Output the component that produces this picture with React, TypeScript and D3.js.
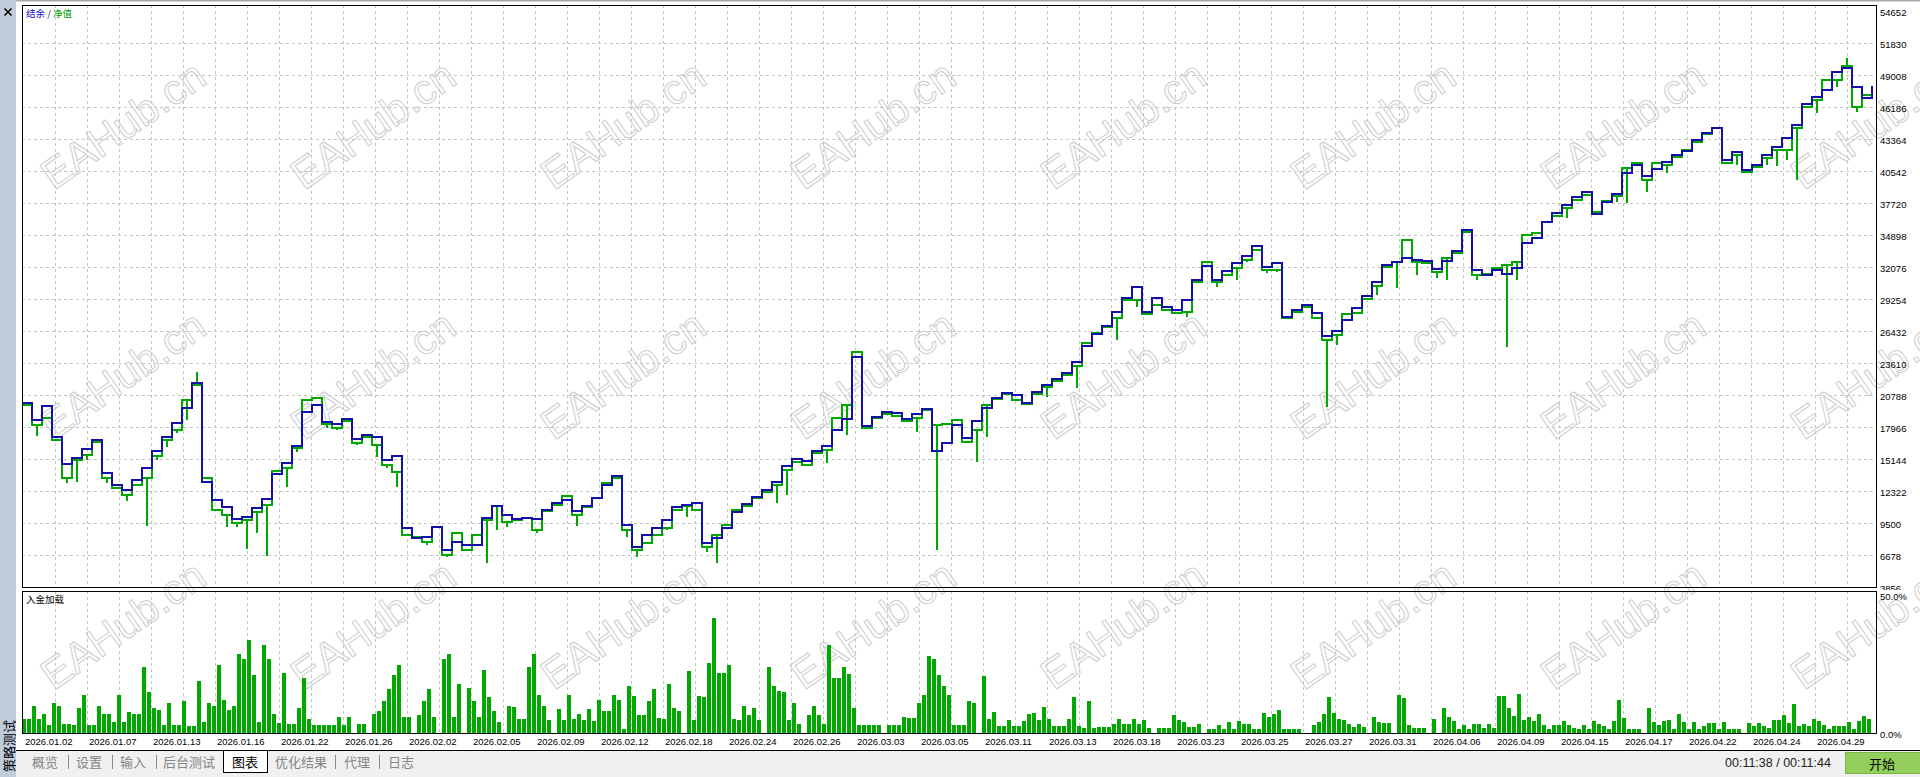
import * as d3 from "d3";
import { useEffect } from "react";

// balance per deal step
const balance = [
  20109, 18610, 19845, 17111, 14729, 15258, 16052, 16846, 13935, 12877,
  12436, 13318, 14376, 15876, 17111, 18345, 19668, 21873, 13142, 11554,
  10937, 9878, 10055, 10848, 11642, 13847, 14817, 16317, 19316, 19933,
  18434, 18257, 18698, 16934, 17287, 17111, 15082, 15435, 9084, 8202,
  8291, 9173, 7144, 7850, 7585, 7585, 9966, 11025, 10231, 9878,
  9966, 9878, 10672, 11289, 11554, 10584, 11025, 11730, 12877, 13671,
  9349, 7409, 8467, 9084, 9790, 10937, 11113, 11289, 7761, 8202,
  9084, 10496, 11201, 11819, 12436, 13142, 14553, 15170, 14994, 15876,
  16317, 17728, 18698, 24167, 18081, 18875, 19316, 19227, 18698, 19139,
  19580, 15876, 16581, 18169, 17022, 18522, 19668, 20550, 20991, 20815,
  20109, 21080, 21697, 22226, 22755, 23726, 25137, 26195, 26901, 28136,
  29370, 30341, 28136, 29370, 28577, 28312, 29194, 30958, 32193, 30958,
  31752, 32457, 33075, 33957, 32105, 32457, 27695, 28312, 28753, 28047,
  26019, 26460, 27430, 28488, 29547, 30782, 32281, 32546, 32898, 32722,
  32634, 31928, 32634, 33516, 35368, 31840, 31399, 31840, 31487, 32016,
  34221, 34662, 36074, 36867, 37573, 38279, 38720, 36779, 37838, 38543,
  40395, 41101, 40131, 40748, 41366, 41983, 42336, 43306, 43923, 44364,
  41542, 42248, 40660, 41101, 41983, 42689, 43482, 44629, 46481, 47099,
  47716, 49304, 49656, 47980, 47010, 48069,
];

// equity level per deal step
const equity = [
  19933, 18169, 18786, 16846, 13494, 15082, 15523, 16670, 13494, 12612,
  11995, 12877, 13494, 15435, 16846, 17728, 20374, 21697, 13494, 10672,
  10231, 9525, 9790, 10496, 11113, 14112, 14376, 16140, 20374, 20550,
  18257, 17904, 18522, 16581, 17111, 16405, 14641, 14024, 8467, 8291,
  7850, 9173, 6703, 8643, 7144, 8467, 9790, 11025, 9614, 9790,
  9966, 8908, 10584, 11113, 11907, 10231, 10937, 11730, 13053, 13494,
  8908, 7144, 7761, 8467, 9084, 10672, 11025, 10672, 7409, 8467,
  9349, 10672, 11025, 11730, 12260, 12877, 14200, 14906, 14641, 15699,
  15964, 18786, 19933, 24608, 17904, 18786, 19139, 18963, 18522, 18786,
  19492, 18169, 18257, 18610, 16670, 17728, 19933, 20462, 20903, 20374,
  20021, 20903, 21521, 22050, 22579, 23373, 25401, 26283, 26813, 27606,
  29194, 29194, 27959, 28753, 28312, 28047, 28136, 30782, 32546, 30782,
  31399, 32016, 32722, 33604, 31840, 31840, 27606, 28136, 28577, 27606,
  25666, 26107, 27959, 28047, 29282, 30429, 32105, 32546, 34486, 32546,
  32457, 31664, 32898, 33339, 35192, 31399, 31487, 32016, 32281, 32546,
  34927, 35103, 36074, 36603, 37308, 38014, 38455, 36956, 37926, 38367,
  40836, 41277, 39778, 41277, 41101, 41807, 42424, 43130, 43835, 44364,
  41277, 41983, 40484, 40925, 41718, 42424, 42424, 44364, 46217, 46834,
  48598, 48598, 49833, 46217, 47275, 48069,
];

// floating extremes of equity inside a step: [deal step, equity]
const equitySpikes: [number, number][] = [
  [1, 17199], [4, 13053], [5, 13142], [6, 15082], [8, 13053], [10, 11466],
  [12, 9261], [13, 15082], [14, 16229], [15, 17463], [16, 18610], [17, 22844],
  [20, 9173], [21, 9173], [22, 7232], [23, 8643], [24, 6615], [26, 12701],
  [27, 15788], [30, 17904], [31, 17728], [33, 16405], [35, 15347], [36, 14376],
  [37, 12701], [40, 7585], [42, 6527], [46, 5997], [47, 8908], [48, 9173],
  [51, 8643], [55, 9261], [60, 8291], [61, 6527], [64, 8908], [66, 10055],
  [68, 6968], [69, 5997], [75, 11289], [76, 11995], [80, 14817], [82, 17287],
  [89, 17552], [91, 7144], [95, 14906], [96, 17111], [102, 20639], [105, 21432],
  [109, 25666], [111, 28577], [116, 27695], [119, 30341], [121, 30958],
  [122, 32546], [124, 31575], [125, 31664], [130, 19757], [131, 25225],
  [135, 29635], [137, 30252], [139, 31399], [141, 31134], [142, 30958],
  [145, 30958], [148, 25049], [149, 30958], [154, 36426], [159, 37838],
  [160, 37749], [162, 38720], [164, 40395], [171, 41101], [174, 41101],
  [175, 41013], [176, 41542], [177, 39778], [179, 45687], [181, 47981],
  [182, 50538], [183, 45776],
];

// deposit load, %
const depositLoad = [
  5, 5, 10, 5, 7, 3, 11, 10, 3.4, 3.4,
  3, 9, 14, 3, 3, 10, 7, 7, 4, 14,
  4, 7.5, 7, 7, 24, 15, 9, 8.5, 3, 11,
  3, 3, 11.5, 2.4, 2.4, 19, 4, 11, 10, 25,
  12, 8.5, 10, 29, 27, 34, 21, 4, 32, 27,
  7, 3.5, 22, 3.4, 3.4, 9, 20, 5, 3, 3,
  3, 3, 3, 6, 3, 6, 0, 3.4, 3.4, 0,
  7, 8, 11.5, 16, 21, 25, 6, 6, 0, 6.7,
  11.5, 16, 6, 0, 27, 29, 6, 18, 0, 16.5,
  11.5, 6, 23, 13, 8, 4, 0, 10, 9.5, 5,
  5, 24, 29, 14, 10, 4.6, 0, 8.6, 4.6, 14,
  5, 7, 4.6, 8.6, 4.3, 12, 8, 8, 14, 12,
  1.6, 17, 13.5, 6.4, 6.4, 11.5, 16, 5.5, 5.2, 18,
  9, 8.2, 0, 22.5, 4.6, 13.5, 13, 25.7, 42, 22,
  22, 25, 5, 4.6, 10, 6.4, 9, 4.6, 0, 24,
  17, 15.5, 15, 4.6, 11, 3.4, 0, 6.4, 10, 6.6,
  3.4, 32, 20, 20, 24, 21.7, 9, 2.8, 2.8, 2.8,
  2.8, 2.8, 0, 2.8, 2.8, 2.8, 5.8, 5.5, 5.5, 11,
  13.7, 28, 27, 21, 17, 13.7, 2.8, 2.8, 2.8, 11.5,
  11, 0, 20.7, 5.2, 7.7, 2.6, 2.6, 4.6, 2.6, 2.6,
  4.3, 7, 7.2, 4.6, 9.5, 5.2, 2.6, 2.6, 2.6, 5,
  13, 2.6, 1.8, 11.5, 1.8, 2.2, 2.2, 2.2, 3.4, 5,
  3.4, 3.4, 5, 3.4, 4.6, 1.8, 0, 1.8, 1.8, 1.8,
  6.7, 4.6, 4, 2.2, 2.2, 3.4, 0, 1.6, 1.6, 3,
  1.6, 4, 1.6, 4.3, 3.4, 3.4, 1.6, 1.6, 7.4, 5.8,
  7, 8.3, 1.6, 1.6, 1.6, 1.6, 0, 0, 2.8, 4,
  7, 13, 7.4, 5.2, 4.6, 3.4, 2.2, 3.4, 2.2, 0,
  5.8, 4, 3.8, 3.8, 0, 14, 12.8, 3, 1.8, 1.8,
  1.8, 0, 5, 0, 9, 6, 4.5, 1.5, 3, 1.5,
  3.4, 3.4, 2, 3.4, 1.8, 13.6, 13.6, 9, 6.3, 14.4,
  4.6, 6, 4.5, 7, 3, 1.5, 3, 3, 4.5, 3,
  1.8, 1.5, 3, 1.5, 4.3, 3.4, 2.6, 1.5, 4.3, 12,
  5.5, 1.5, 1.5, 1.5, 0, 9, 3.9, 3, 4.3, 4.9,
  1.5, 7, 3.9, 1.5, 3.9, 1.5, 2.4, 3.6, 3.6, 1.5,
  3.9, 1.5, 1.5, 1.5, 0, 3.6, 2.7, 3.6, 2.4, 1.8,
  4.9, 4.9, 6.7, 3.6, 10.7, 2.4, 3.4, 2.4, 5, 4.3,
  3, 1.5, 2.7, 2.4, 2.4, 3.9, 1.5, 4.3, 6.3, 5,
];

const balanceTicks = [
  54652, 51830, 49008, 46186, 43364, 40542, 37720, 34898, 32076, 29254,
  26432, 23610, 20788, 17966, 15144, 12322, 9500, 6678, 3856,
];
const loadTickValues = [50, 0];
const loadTickLabels = ["50.0%", "0.0%"];

const dateLabels = [
  "2026.01.02", "2026.01.07", "2026.01.13", "2026.01.16", "2026.01.22",
  "2026.01.26", "2026.02.02", "2026.02.05", "2026.02.09", "2026.02.12",
  "2026.02.18", "2026.02.24", "2026.02.26", "2026.03.03", "2026.03.05",
  "2026.03.11", "2026.03.13", "2026.03.18", "2026.03.23", "2026.03.25",
  "2026.03.27", "2026.03.31", "2026.04.06", "2026.04.09", "2026.04.15",
  "2026.04.17", "2026.04.22", "2026.04.24", "2026.04.29",
];

const tabs = ["概览", "设置", "输入", "后台测试", "图表", "优化结果", "代理", "日志"];
const tabCenters = [45, 89, 133, 189, 245, 301, 357, 401];
const tabSeparators = [68, 112, 156, 335, 379];
const activeTab = 4;

const W = 1920;
const H = 777;
const left = 22;
const right = 1876;
const mainTop = 5;
const mainBottom = 587;
const lowTop = 591;
const lowBottom = 733;

const BLUE = "#1111aa";
const GREEN = "#00a800";
const GRID = "#c4c4c4";
const NUM_FONT = "'Liberation Sans', Arial, sans-serif";
const CJK_FONT = "'Noto Sans CJK SC', 'Noto Sans', sans-serif";

export default function App() {
  useEffect(() => {
    document.body.style.margin = "0";
  }, []);

  const xMain = d3.scaleLinear().domain([0, balance.length - 1]).range([left, 1872]);
  const yMain = d3.scaleLinear().domain([3856, 54652]).range([587.3, 11.3]);
  const xLoad = d3.scaleLinear().domain([0, depositLoad.length]).range([left, 1872]);
  const yLoad = d3.scaleLinear().domain([0, 50]).range([lowBottom, 596]);
  const xGrid = d3.scaleLinear().domain([0, 1]).range([23, 55]);
  const xDate = d3.scaleLinear().domain([0, 1]).range([25, 89]);

  const gridXs = d3.range(1, 58).map((k) => xGrid(k));

  const balancePath =
    d3
      .line<number>()
      .x((_, i) => xMain(i))
      .y((d) => yMain(d))
      .curve(d3.curveStepAfter)(balance) || "";

  const spikeMap = new Map(equitySpikes);
  const eqPts: [number, number][] = [];
  equity.forEach((v, i) => {
    eqPts.push([i, v]);
    const s = spikeMap.get(i);
    if (s !== undefined) {
      eqPts.push([i + 0.5, v], [i + 0.5, s], [i + 0.5, v]);
    }
    if (i < equity.length - 1) eqPts.push([i + 1, v]);
  });
  const equityPath =
    d3
      .line<[number, number]>()
      .x((d) => xMain(d[0]))
      .y((d) => yMain(d[1]))(eqPts) || "";

  const barW = 4;

  const watermarks: { x: number; y: number }[] = [];
  for (let r = 0; r < 3; r++) {
    for (let c = 0; c < 8; c++) watermarks.push({ x: 123 + 250 * c, y: 125 + 250 * r });
  }

  return (
    <svg
      width={W}
      height={H}
      viewBox={`0 0 ${W} ${H}`}
      style={{ position: "absolute", left: 0, top: 0, display: "block" }}
    >
      <defs>
        <clipPath id="mainClip">
          <rect x={left} y={mainTop} width={right - left} height={mainBottom - mainTop} />
        </clipPath>
        <clipPath id="axisClip">
          <rect x={right} y={0} width={W - right} height={590} />
        </clipPath>
      </defs>

      <rect x={0} y={0} width={W} height={H} fill="#ffffff" />
      <rect x={0} y={0} width={W} height={1.5} fill="#a8a8a8" />
      <rect x={0} y={0} width={16} height={H} fill="#bfccd9" />
      <path d="M4.5,8.5 L11.5,15.5 M11.5,8.5 L4.5,15.5" stroke="#000" strokeWidth={1.6} />
      <text
        transform="translate(8,746) rotate(-90)"
        textAnchor="middle"
        dominantBaseline="central"
        fontFamily={CJK_FONT}
        fontSize={13}
        fill="#000"
      >
        策略测试
      </text>

      {/* grid */}
      <g stroke={GRID} strokeWidth={1} strokeDasharray="3 3" shapeRendering="crispEdges">
        {gridXs.map((x, i) => (
          <line key={`vm${i}`} x1={x} x2={x} y1={mainTop} y2={mainBottom} />
        ))}
        {gridXs.map((x, i) => (
          <line key={`vl${i}`} x1={x} x2={x} y1={lowTop} y2={lowBottom} />
        ))}
        {balanceTicks.slice(1, -1).map((v) => (
          <line key={`h${v}`} x1={left} x2={right} y1={yMain(v)} y2={yMain(v)} />
        ))}
      </g>

      {/* watermark */}
      <g fontFamily={NUM_FONT} fontSize={42} fill="none" stroke="#cdcdcd" strokeWidth={1}>
        {watermarks.map((w, i) => (
          <text
            key={i}
            transform={`translate(${w.x},${w.y}) rotate(-35)`}
            textAnchor="middle"
            dominantBaseline="central"
          >
            EAHub.cn
          </text>
        ))}
      </g>

      {/* balance / equity */}
      <g clipPath="url(#mainClip)" fill="none" shapeRendering="crispEdges">
        <path d={equityPath} stroke={GREEN} strokeWidth={2} />
        <path d={balancePath} stroke={BLUE} strokeWidth={2} />
      </g>

      {/* deposit load */}
      <g fill={GREEN} shapeRendering="crispEdges">
        {depositLoad.map((v, i) =>
          v > 0 ? (
            <rect
              key={i}
              x={xLoad(i)}
              y={yLoad(v)}
              width={barW}
              height={yLoad(0) - yLoad(v)}
            />
          ) : null
        )}
      </g>

      {/* frames */}
      <g fill="none" stroke="#000" strokeWidth={1} shapeRendering="crispEdges">
        <rect x={left} y={mainTop} width={right - left} height={mainBottom - mainTop} />
        <rect x={left} y={lowTop} width={right - left} height={lowBottom - lowTop} />
      </g>

      {/* legends */}
      <text x={26} y={13} dominantBaseline="central" fontFamily={CJK_FONT} fontSize={9.5}>
        <tspan fill="#1515c8">结余</tspan>
        <tspan fill="#202080"> / </tspan>
        <tspan fill="#00a000">净值</tspan>
      </text>
      <text x={26} y={599} dominantBaseline="central" fontFamily={CJK_FONT} fontSize={9.5} fill="#000">
        入金加载
      </text>

      {/* right axis labels */}
      <g clipPath="url(#axisClip)" fontFamily={NUM_FONT} fontSize={9.5} fill="#000">
        {balanceTicks.map((v) => (
          <text key={v} x={1880} y={yMain(v) + 1} dominantBaseline="central">
            {v}
          </text>
        ))}
      </g>
      <g fontFamily={NUM_FONT} fontSize={9.5} fill="#000">
        {loadTickValues.map((v, i) => (
          <text key={v} x={1880} y={yLoad(v) + (v === 0 ? 1 : 0)} dominantBaseline="central">
            {loadTickLabels[i]}
          </text>
        ))}
      </g>

      {/* date labels */}
      <g fontFamily={NUM_FONT} fontSize={9.5} fill="#000">
        {dateLabels.map((t, i) => (
          <text key={t} x={xDate(i)} y={741} dominantBaseline="central">
            {t}
          </text>
        ))}
      </g>

      {/* tab bar */}
      <rect x={16} y={750} width={W - 16} height={H - 750} fill="#f0f0f0" />
      <rect
        x={tabCenters[activeTab] - 22}
        y={750}
        width={44}
        height={22}
        fill="#ffffff"
        stroke="#000"
        strokeWidth={1}
        shapeRendering="crispEdges"
      />
      <line x1={16} x2={W} y1={750.5} y2={750.5} stroke="#000" strokeWidth={1} />
      <g stroke="#8a8a8a" strokeWidth={1} shapeRendering="crispEdges">
        {tabSeparators.map((x) => (
          <line key={x} x1={x} x2={x} y1={755} y2={769} />
        ))}
      </g>
      <g fontFamily={CJK_FONT} fontSize={13} textAnchor="middle">
        {tabs.map((t, i) => (
          <text
            key={t}
            x={tabCenters[i]}
            y={761.5}
            dominantBaseline="central"
            fill={i === activeTab ? "#000" : "#858585"}
          >
            {t}
          </text>
        ))}
      </g>

      <text x={1725} y={763} dominantBaseline="central" fontFamily={NUM_FONT} fontSize={12.5} fill="#222">
        00:11:38 / 00:11:44
      </text>
      <rect x={1845.5} y={752.5} width={76} height={21} fill="#92cf5c" stroke="#7cb64a" strokeWidth={1} />
      <text
        x={1882}
        y={763}
        textAnchor="middle"
        dominantBaseline="central"
        fontFamily={CJK_FONT}
        fontSize={13}
        fill="#000"
      >
        开始
      </text>
    </svg>
  );
}
